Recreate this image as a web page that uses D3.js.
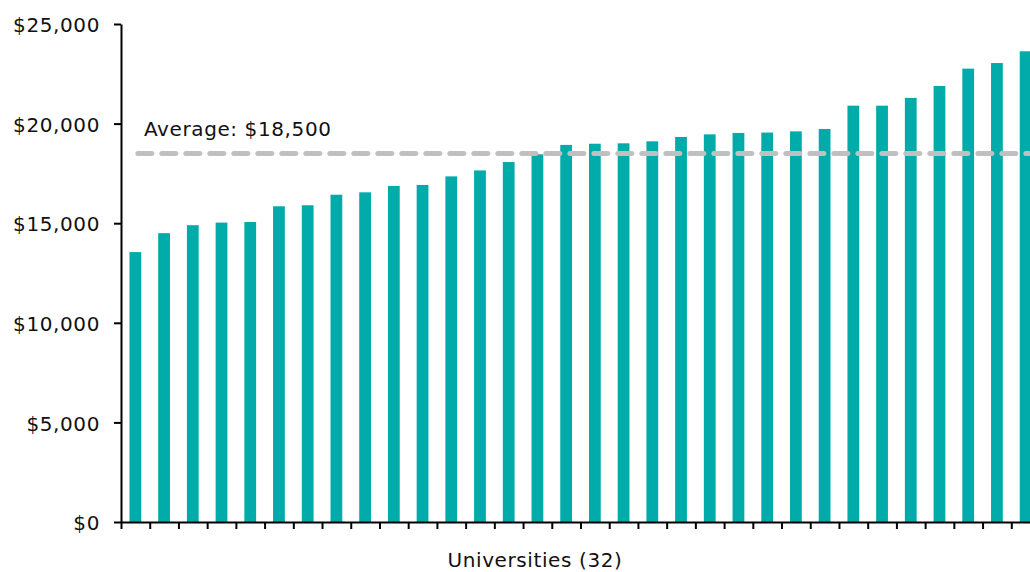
<!DOCTYPE html>
<html>
<head>
<meta charset="utf-8">
<script src="https://cdn.jsdelivr.net/npm/d3@7"></script>
<style>
  body { margin: 0; background: #fff; overflow: hidden; }
  svg { display: block; font-family: "DejaVu Sans", Verdana, sans-serif; }
  text { letter-spacing: 0.6px; }
</style>
</head>
<body>
<svg id="chart" width="1030" height="572"></svg>
<script>
// Data, sorted lowest to highest
const universities = d3.range(1, 33).map((i) => "U" + i);
const costs = [
  13550, 14500, 14900, 15030, 15060, 15850, 15900, 16430,
  16550, 16870, 16920, 17350, 17650, 18070, 18460, 18930,
  18990, 19010, 19110, 19330, 19460, 19530, 19550, 19610,
  19730, 20900, 20900, 21290, 21890, 22760, 23040, 23630
];
const average = 18500;
const averageLabel = "Average: $18,500";
const yTicks = [0, 5000, 10000, 15000, 20000, 25000];
const xLabel = "Universities (32)";

const svg = d3.select("#chart");
const fontSize = 20;

// plot area runs past the right edge of the window, like the original
const plotLeft = 121, plotRight = 1040, plotTop = 24, plotBottom = 522;

const x = d3.scaleBand()
  .domain(universities)
  .range([plotLeft, plotRight])
  .paddingInner(0.59)
  .paddingOuter(0.295);

const xTick = d3.scaleLinear()
  .domain([0, universities.length])
  .range([plotLeft, plotRight]);

const y = d3.scaleLinear()
  .domain([0, 25000])
  .range([plotBottom, plotTop]);

// bars
svg.append("g")
  .selectAll("rect")
  .data(costs)
  .join("rect")
  .attr("x", (d, i) => x(universities[i]))
  .attr("y", (d) => y(d))
  .attr("width", x.bandwidth())
  .attr("height", (d) => y(0) - y(d))
  .attr("fill", "#00abaa");

// average line
const firstCenter = x(universities[0]) + x.bandwidth() / 2;
svg.append("line")
  .attr("x1", firstCenter + 2.5)
  .attr("x2", plotRight)
  .attr("y1", y(average))
  .attr("y2", y(average))
  .attr("stroke", "#c0c0c0")
  .attr("stroke-width", 5)
  .attr("stroke-linecap", "round")
  .attr("stroke-dasharray", "14,10");

svg.append("text")
  .attr("x", 144)
  .attr("y", 136)
  .attr("font-size", fontSize)
  .attr("fill", "#111")
  .text(averageLabel);

// y axis
const yAxis = svg.append("g")
  .attr("transform", `translate(${plotLeft},0)`)
  .call(d3.axisLeft(y)
    .tickValues(yTicks)
    .tickFormat((d) => "$" + d3.format(",")(d))
    .tickSize(7)
    .tickSizeOuter(0)
    .tickPadding(14));
yAxis.select(".domain").attr("stroke", "#000").attr("stroke-width", 2);
yAxis.selectAll(".tick line").attr("stroke", "#000").attr("stroke-width", 2);
yAxis.selectAll("text")
  .attr("font-size", fontSize)
  .attr("dy", "0.38em")
  .attr("font-family", "DejaVu Sans, Verdana, sans-serif")
  .attr("fill", "#111");

// x axis (tick at each band edge, no labels)
const xAxis = svg.append("g")
  .attr("transform", `translate(0,${plotBottom})`)
  .call(d3.axisBottom(xTick)
    .tickValues(d3.range(0, universities.length + 1))
    .tickFormat("")
    .tickSize(7)
    .tickSizeOuter(0));
xAxis.select(".domain").attr("stroke", "#000").attr("stroke-width", 2);
xAxis.selectAll(".tick line").attr("stroke", "#000").attr("stroke-width", 2);

svg.append("text")
  .attr("x", 535)
  .attr("y", 567)
  .attr("text-anchor", "middle")
  .attr("font-size", fontSize)
  .attr("fill", "#111")
  .text(xLabel);
</script>
</body>
</html>
